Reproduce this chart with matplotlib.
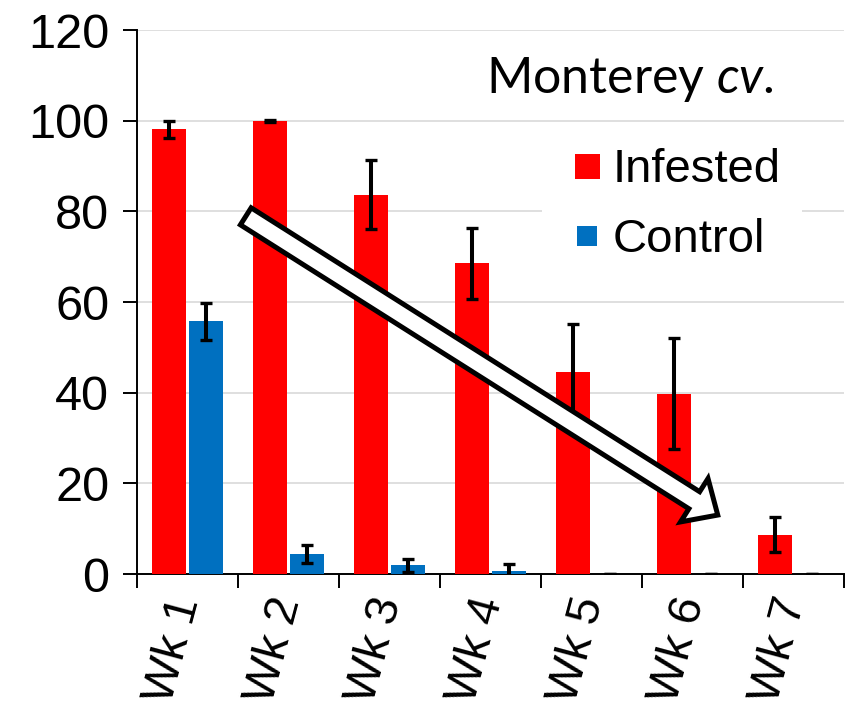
import numpy as np
import matplotlib
matplotlib.use("Agg")
import matplotlib.pyplot as plt
import matplotlib.transforms as mtransforms
from matplotlib.lines import Line2D
from matplotlib.patches import FancyArrowPatch, ArrowStyle

# ----------------------------------------------------
# DATA
# ----------------------------------------------------
weeks = ["Wk 1", "Wk 2", "Wk 3", "Wk 4", "Wk 5", "Wk 6", "Wk 7"]
infested = [98.1, 100.0, 83.7, 68.5, 44.6, 39.8, 8.7]
infested_err = [1.9, 0.2, 7.7, 7.8, 10.5, 12.2, 3.9]
control = [55.7, 4.4, 1.9, 0.6, 0.0, 0.0, 0.0]
control_err = [4.1, 2.0, 1.4, 1.5, 0.0, 0.0, 0.0]
y_ticks = [0, 20, 40, 60, 80, 100, 120]

RED = "#ff0000"
BLUE = "#0070c0"

plt.rcParams["font.family"] = ["Liberation Sans", "DejaVu Sans"]
plt.rcParams["mathtext.fontset"] = "custom"
plt.rcParams["mathtext.rm"] = "Lato"
plt.rcParams["mathtext.it"] = "Lato:italic"

fig = plt.figure(figsize=(8.5, 7.13), dpi=100)
ax = fig.add_axes([137 / 850, (713 - 574) / 713, (844 - 137) / 850, (574 - 30) / 713])

x = np.arange(len(weeks))
w = 0.335
off = 0.187

err_kw = dict(ecolor="black", elinewidth=2.9, capsize=4.2, capthick=2.4, zorder=4)
ax.bar(x - off, infested, w, color=RED, zorder=3, yerr=infested_err, error_kw=err_kw)
ax.bar(x + off, control, w, color=BLUE, zorder=3, yerr=control_err, error_kw=err_kw)

# ----------------------------------------------------
# AXES
# ----------------------------------------------------
ax.set_xlim(-0.5, len(weeks) - 0.5)
ax.set_ylim(0, 120)
ax.set_yticks(y_ticks)
ax.yaxis.grid(True, color="#d9d9d9", linewidth=1.2, zorder=0)
ax.set_axisbelow(True)

for s in ["top", "right"]:
    ax.spines[s].set_visible(False)
ax.spines["left"].set_linewidth(1.4)
ax.spines["bottom"].set_linewidth(1.4)

ax.tick_params(axis="y", direction="out", length=10, width=1.4, pad=10, labelsize=35)

ax.set_xticks(x)
ax.set_xticklabels(weeks, rotation=75, ha="right", va="center",
                   rotation_mode="anchor", fontsize=34)
shift = mtransforms.ScaledTranslation(-3 / 100, 0, fig.dpi_scale_trans)
for lab in ax.get_xticklabels():
    lab.set_transform(lab.get_transform() + shift)
ax.set_xticks(np.arange(-0.5, len(weeks)), minor=True)
ax.tick_params(axis="x", which="major", length=0, pad=17)
ax.tick_params(axis="x", which="minor", direction="out", length=10, width=1.4)

# ----------------------------------------------------
# TITLE TEXT + LEGEND
# ----------------------------------------------------
ax.text(0.494, 0.885, r"Monterey $\it{cv.}$", transform=ax.transAxes,
        ha="left", va="baseline", fontsize=36, family="Lato", zorder=6)

handles = [Line2D([], [], linestyle="none", marker="s", markersize=18,
                  markerfacecolor=RED, markeredgewidth=0),
           Line2D([], [], linestyle="none", marker="s", markersize=15,
                  markerfacecolor=BLUE, markeredgewidth=0)]
leg = ax.legend(handles, ["Infested", "Control"], loc="upper left",
                bbox_to_anchor=(542 / 850, 1 - 127 / 713),
                bbox_transform=fig.transFigure, fontsize=34, frameon=True,
                fancybox=False, facecolor="white", edgecolor="none", framealpha=1,
                handlelength=1.0, handletextpad=0.05,
                labelspacing=0.55, borderpad=0.45, borderaxespad=0)
leg.set_zorder(5)

# ----------------------------------------------------
# TREND ARROW
# ----------------------------------------------------
arrow = FancyArrowPatch((0.577, 78.9), (5.25, 13.0),
                        arrowstyle=ArrowStyle.Simple(head_length=20, head_width=37,
                                                     tail_width=14.5),
                        mutation_scale=1, shrinkA=0, shrinkB=0,
                        facecolor="white", edgecolor="black", linewidth=3.6,
                        joinstyle="miter", zorder=7)
ax.add_patch(arrow)

fig.savefig("out.png", dpi=100)
